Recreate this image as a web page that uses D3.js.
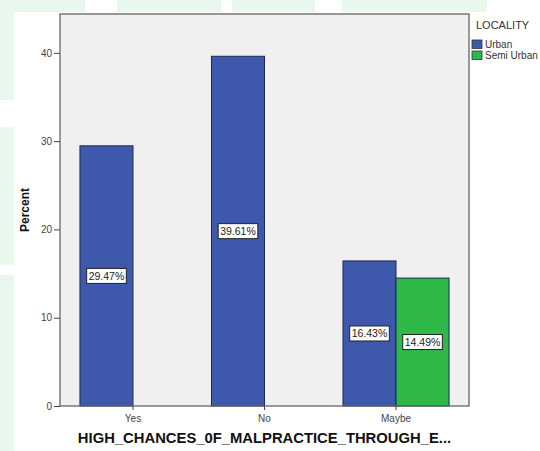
<!DOCTYPE html>
<html>
<head>
<meta charset="utf-8">
<script src="https://cdn.jsdelivr.net/npm/d3@7"></script>
<style>
  html, body { margin: 0; padding: 0; background: #ffffff; }
  svg { display: block; font-family: "Liberation Sans", Arial, sans-serif; }
</style>
</head>
<body>
<svg id="chart" width="540" height="451"></svg>
<script>
// ---- data ----
const categories = ["Yes", "No", "Maybe"];
const seriesNames = ["Urban", "Semi Urban"];
const urbanValues = [29.47, 39.61, 16.43];
const semiUrbanValues = [null, null, 14.49];
const yTicks = [0, 10, 20, 30, 40];
const xTitle = "HIGH_CHANCES_0F_MALPRACTICE_THROUGH_E...";
const yTitle = "Percent";
const legendTitle = "LOCALITY";

const colors = { "Urban": "#3e58ac", "Semi Urban": "#2eb848" };

const svg = d3.select("#chart");

// background decoration (light green page behind the chart)
const bg = svg.append("g");
const green = "#e8f8ec";
[[0,0,14,100],[0,127,14,138],[0,275,14,176],[14,0,71,12],[117,0,104,12],[232,0,83,12],[342,0,145,12]]
  .forEach(r => bg.append("rect").attr("x", r[0]).attr("y", r[1]).attr("width", r[2]).attr("height", r[3]).attr("fill", green));

const plot = { left: 60, right: 469, top: 14, bottom: 406 };

const x = d3.scaleBand().domain(categories).range([plot.left, plot.right]).paddingInner(0).paddingOuter(0.055);
const xs = d3.scaleBand().domain(seriesNames).range([0, x.bandwidth()]).paddingInner(0).paddingOuter(0.24);
const y = d3.scaleLinear().domain([0, 44.4]).range([plot.bottom, plot.top]);

// plot background
svg.append("rect")
  .attr("x", plot.left).attr("y", plot.top)
  .attr("width", plot.right - plot.left).attr("height", plot.bottom - plot.top)
  .attr("fill", "#f0f0f0");

const rows = [];
categories.forEach((c, i) => {
  [urbanValues[i], semiUrbanValues[i]].forEach((v, j) => {
    if (v != null) rows.push({ cat: c, series: seriesNames[j], value: v });
  });
});

const bars = svg.append("g");
bars.selectAll("rect").data(rows).join("rect")
  .attr("x", d => x(d.cat) + xs(d.series))
  .attr("y", d => y(d.value))
  .attr("width", xs.bandwidth())
  .attr("height", d => y(0) - y(d.value))
  .attr("fill", d => colors[d.series])
  .attr("stroke", "#1e2a55")
  .attr("stroke-width", 1);

// value labels
const lab = svg.append("g");
rows.forEach(d => {
  const cx = x(d.cat) + xs(d.series) + xs.bandwidth() / 2;
  const cy = (y(d.value) + y(0)) / 2;
  const g = lab.append("g");
  const t = d.value.toFixed(2) + "%";
  const rect = g.append("rect").attr("fill", "#ffffff").attr("stroke", "#222").attr("stroke-width", 1);
  const txt = g.append("text").attr("x", cx).attr("y", cy + 4).attr("text-anchor", "middle")
    .attr("font-size", 10.5).attr("fill", "#222").text(t);
  const w = txt.node().getComputedTextLength() + 4;
  rect.attr("x", cx - w / 2).attr("y", cy - 7.5).attr("width", w).attr("height", 15);
});

// frame
svg.append("rect")
  .attr("x", plot.left).attr("y", plot.top)
  .attr("width", plot.right - plot.left).attr("height", plot.bottom - plot.top)
  .attr("fill", "none").attr("stroke", "#666").attr("stroke-width", 1.3);

// y axis
const yAxis = svg.append("g").attr("transform", `translate(${plot.left},0)`)
  .call(d3.axisLeft(y).tickValues(yTicks).tickSize(6).tickPadding(2).tickFormat(d3.format("d")));
yAxis.select(".domain").remove();
yAxis.selectAll("line").attr("stroke", "#444");
yAxis.selectAll("text").attr("font-size", 10).attr("fill", "#444").attr("font-family", "Liberation Sans, Arial, sans-serif");

// x axis
const xAxis = svg.append("g").attr("transform", `translate(0,${plot.bottom})`)
  .call(d3.axisBottom(x).tickSize(4).tickPadding(5));
xAxis.select(".domain").remove();
xAxis.selectAll("line").attr("stroke", "#444");
xAxis.selectAll("text").attr("font-size", 10).attr("fill", "#444").attr("font-family", "Liberation Sans, Arial, sans-serif");

// titles
svg.append("text").attr("x", (plot.left + plot.right) / 2).attr("y", 443)
  .attr("text-anchor", "middle").attr("font-size", 14.8).attr("font-weight", "bold").attr("fill", "#111")
  .text(xTitle);
svg.append("text").attr("transform", `translate(29,${(plot.top + plot.bottom) / 2}) rotate(-90)`)
  .attr("text-anchor", "middle").attr("font-size", 12).attr("font-weight", "bold").attr("fill", "#111")
  .text(yTitle);

// legend
const leg = svg.append("g");
leg.append("text").attr("x", 476).attr("y", 29).attr("font-size", 11).attr("fill", "#333").text(legendTitle);
seriesNames.forEach((s, i) => {
  leg.append("rect").attr("x", 472).attr("y", 40 + i * 11).attr("width", 10).attr("height", 8.5)
    .attr("fill", colors[s]).attr("stroke", "#333").attr("stroke-width", 0.8);
  leg.append("text").attr("x", 485).attr("y", 47.5 + i * 11).attr("font-size", 10).attr("fill", "#333").text(s);
});
</script>
</body>
</html>
